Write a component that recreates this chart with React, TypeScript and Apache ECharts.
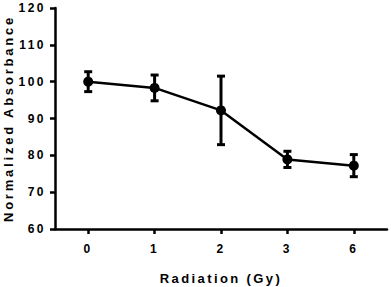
import React, { useEffect, useRef } from "react";
import * as echarts from "echarts";

const categories = ["0", "1", "2", "3", "6"];
const means = [100, 98.3, 92.2, 78.9, 77.2];
const errors = [2.7, 3.5, 9.3, 2.2, 3.0];
const yTicks = { min: 60, max: 120, interval: 10 };

const FONT = "'Liberation Sans', Arial, sans-serif";

export default function App() {
  const ref = useRef<HTMLDivElement>(null);
  useEffect(() => {
    if (!ref.current) return;
    const chart = echarts.init(ref.current, null, { renderer: "svg" });
    const errData = categories.map((c, i) => [i, means[i] - errors[i], means[i] + errors[i]]);
    chart.setOption({
      animation: false,
      backgroundColor: "#fff",
      grid: { left: 55, right: 4, top: 8, bottom: 58, containLabel: false, outerBoundsMode: "none" },
      xAxis: {
        type: "category",
        data: categories,
        boundaryGap: true,
        name: "Radiation (Gy)",
        nameLocation: "middle",
        nameGap: 43,
        nameTextStyle: { fontFamily: FONT, fontWeight: "bold", fontSize: 13, color: "#000" },
        axisLine: { show: true, lineStyle: { color: "#000", width: 2.5 } },
        axisTick: { show: true, alignWithLabel: true, length: 5, lineStyle: { color: "#000", width: 2.5 } },
        axisLabel: { fontFamily: FONT, fontWeight: "bold", fontSize: 12, color: "#000", margin: 14 },
        splitLine: { show: false },
      },
      yAxis: {
        type: "value",
        min: yTicks.min,
        max: yTicks.max,
        interval: yTicks.interval,
        name: "Normalized Absorbance",
        nameLocation: "middle",
        nameGap: 40,
        nameTextStyle: { fontFamily: FONT, fontWeight: "bold", fontSize: 13, color: "#000" },
        axisLine: { show: true, lineStyle: { color: "#000", width: 2.5 } },
        axisTick: { show: true, length: 5, lineStyle: { color: "#000", width: 2.5 } },
        axisLabel: { fontFamily: FONT, fontWeight: "bold", fontSize: 12, color: "#000", margin: 9 },
        splitLine: { show: false },
      },
      series: [
        {
          type: "custom",
          data: errData,
          encode: { x: 0, y: [1, 2] },
          z: 3,
          renderItem: (params: any, api: any) => {
            const x = api.value(0);
            const lo = api.coord([x, api.value(1)]);
            const hi = api.coord([x, api.value(2)]);
            const hw = 4;
            const style = { stroke: "#000", lineWidth: 3 };
            return {
              type: "group",
              children: [
                { type: "line", shape: { x1: lo[0], y1: lo[1], x2: hi[0], y2: hi[1] }, style },
                { type: "line", shape: { x1: lo[0] - hw, y1: lo[1], x2: lo[0] + hw, y2: lo[1] }, style },
                { type: "line", shape: { x1: hi[0] - hw, y1: hi[1], x2: hi[0] + hw, y2: hi[1] }, style },
              ],
            };
          },
        },
        {
          type: "line",
          data: means,
          symbol: "circle",
          symbolSize: 10,
          z: 4,
          lineStyle: { color: "#000", width: 2.5 },
          itemStyle: { color: "#000" },
        },
      ],
    });
    const texts = ref.current.querySelectorAll("text");
    texts.forEach((t) => {
      const s = t.textContent || "";
      let ls = 2.5;
      if (s === "Radiation (Gy)") ls = 2.4;
      else if (s.length > 4) ls = 2.8;
      t.setAttribute("letter-spacing", String(ls));
    });
    return () => chart.dispose();
  }, []);
  return <div ref={ref} style={{ width: 391, height: 287, position: "absolute", left: 0, top: 0 }} />;
}
